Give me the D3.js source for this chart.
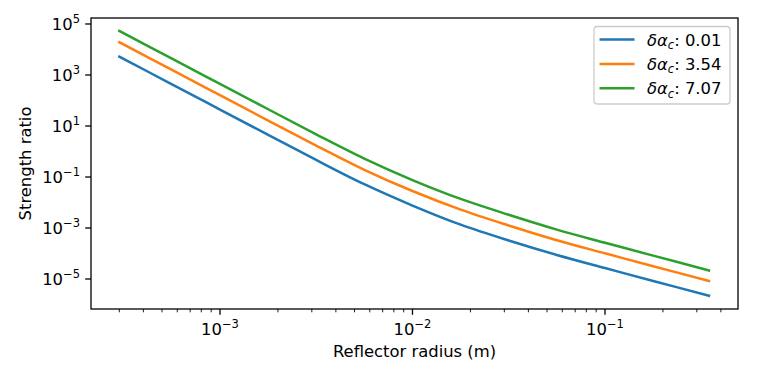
<!DOCTYPE html>
<html><head><meta charset="utf-8">
<script src="https://cdn.jsdelivr.net/npm/d3@7"></script>
<style>
body{margin:0;background:#fff;}
svg{display:block;font-family:"DejaVu Sans",sans-serif;}
</style></head><body>
<svg id="chart" width="757" height="379"></svg>
<script>
// Data
const radius = [3.0e-4, 5.6e-4, 1.0e-3, 1.78e-3, 3.16e-3, 5.62e-3, 1.0e-2, 1.78e-2, 3.16e-2, 5.62e-2, 0.1, 0.178, 0.347];
const seriesLabels = ["0.01", "3.54", "7.07"];
const ratioA = [5.25e3, 4.40e2, 44.2, 4.47, 0.465, 5.22e-2, 7.6e-3, 1.35e-3, 3.24e-4, 8.8e-5, 2.69e-5, 8.4e-6, 2.21e-6];
const ratioB = [1.94e4, 1.61e3, 162, 16.4, 1.71, 0.192, 2.82e-2, 5.25e-3, 1.26e-3, 3.33e-4, 1.02e-4, 3.18e-5, 8.3e-6];
const ratioC = [5.37e4, 4.47e3, 449, 45.4, 4.72, 0.528, 7.6e-2, 1.38e-2, 3.31e-3, 8.67e-4, 2.64e-4, 8.26e-5, 2.16e-5];
const xTickExps = [-3, -2, -1];
const yTickExps = [5, 3, 1, -1, -3, -5];
const colors = ["#1f77b4", "#ff7f0e", "#2ca02c"];

const svg = d3.select("#chart");
const L = 91, R = 738, T = 18, B = 309;
const FS = 16.4, SS = 11.5;
const x = d3.scaleLog().domain([Math.pow(10, -3.670), Math.pow(10, -0.309)]).range([L, R]);
const y = d3.scaleLog().domain([Math.pow(10, -6.176), Math.pow(10, 5.235)]).range([B, T]);

const series = [ratioA, ratioB, ratioC];

// lines
const line = d3.line().x(d => x(d[0])).y(d => y(d[1])).curve(d3.curveCatmullRom.alpha(0.5));
svg.append("clipPath").attr("id", "clip").append("rect")
  .attr("x", L).attr("y", T).attr("width", R - L).attr("height", B - T);
series.forEach((s, i) => {
  svg.append("path")
    .datum(radius.map((r, j) => [r, s[j]]))
    .attr("d", line)
    .attr("fill", "none")
    .attr("stroke", colors[i])
    .attr("stroke-width", 2.5)
    .attr("stroke-linecap", "square")
    .attr("clip-path", "url(#clip)");
});

// x axis ticks
const xMinor = [];
for (let e = -4; e <= 0; e++) for (let m = 2; m <= 9; m++) {
  const v = m * Math.pow(10, e);
  if (v >= x.domain()[0] && v <= x.domain()[1]) xMinor.push(v);
}
const xAxisG = svg.append("g");
xMinor.forEach(v => {
  xAxisG.append("line").attr("x1", x(v)).attr("x2", x(v)).attr("y1", B).attr("y2", B + 3.3)
    .attr("stroke", "#000").attr("stroke-width", 0.9);
});
xTickExps.forEach(e => {
  const v = Math.pow(10, e);
  const px = x(v);
  xAxisG.append("line").attr("x1", px).attr("x2", px).attr("y1", B).attr("y2", B + 5.8)
    .attr("stroke", "#000").attr("stroke-width", 1.3);
  const t = xAxisG.append("text").attr("x", px).attr("y", B + 26).attr("text-anchor", "middle")
    .attr("font-size", FS).attr("fill", "#000");
  t.append("tspan").text("10");
  t.append("tspan").attr("dy", -7).attr("font-size", SS).text("\u2212" + Math.abs(e));
});

// y axis ticks
yTickExps.forEach(e => {
  const py = y(Math.pow(10, e));
  svg.append("line").attr("x1", L - 5.8).attr("x2", L).attr("y1", py).attr("y2", py)
    .attr("stroke", "#000").attr("stroke-width", 1.3);
  const t = svg.append("text").attr("x", L - 11).attr("y", py + 6).attr("text-anchor", "end")
    .attr("font-size", FS).attr("fill", "#000");
  t.append("tspan").text("10");
  t.append("tspan").attr("dy", -7).attr("font-size", SS).text((e < 0 ? "\u2212" : "") + Math.abs(e));
});

// frame
svg.append("rect").attr("x", L).attr("y", T).attr("width", R - L).attr("height", B - T)
  .attr("fill", "none").attr("stroke", "#000").attr("stroke-width", 1.3);

// axis labels
svg.append("text").attr("x", (L + R) / 2).attr("y", 357).attr("text-anchor", "middle")
  .attr("font-size", FS).text("Reflector radius (m)");
svg.append("text").attr("transform", `translate(31,${(T + B) / 2}) rotate(-90)`)
  .attr("text-anchor", "middle").attr("font-size", FS).text("Strength ratio");

// legend
const lg = svg.append("g");
lg.append("rect").attr("x", 594).attr("y", 26.5).attr("width", 136).attr("height", 77.5)
  .attr("rx", 3.3).attr("fill", "#fff").attr("fill-opacity", 0.8)
  .attr("stroke", "#cccccc").attr("stroke-width", 1.3);
seriesLabels.forEach((lab, i) => {
  const ly = 39.5 + i * 24.4;
  lg.append("line").attr("x1", 599.5).attr("x2", 634.5).attr("y1", ly).attr("y2", ly)
    .attr("stroke", colors[i]).attr("stroke-width", 2.5);
  const t = lg.append("text").attr("x", 647).attr("y", ly + 6).attr("font-size", FS).attr("fill", "#000");
  t.append("tspan").attr("font-style", "italic").text("\u03b4\u03b1");
  t.append("tspan").attr("font-style", "italic").attr("font-size", SS).attr("dy", 3.5).text("c");
  t.append("tspan").attr("dy", -3.5).text(": " + lab);
});
</script>
</body></html>
